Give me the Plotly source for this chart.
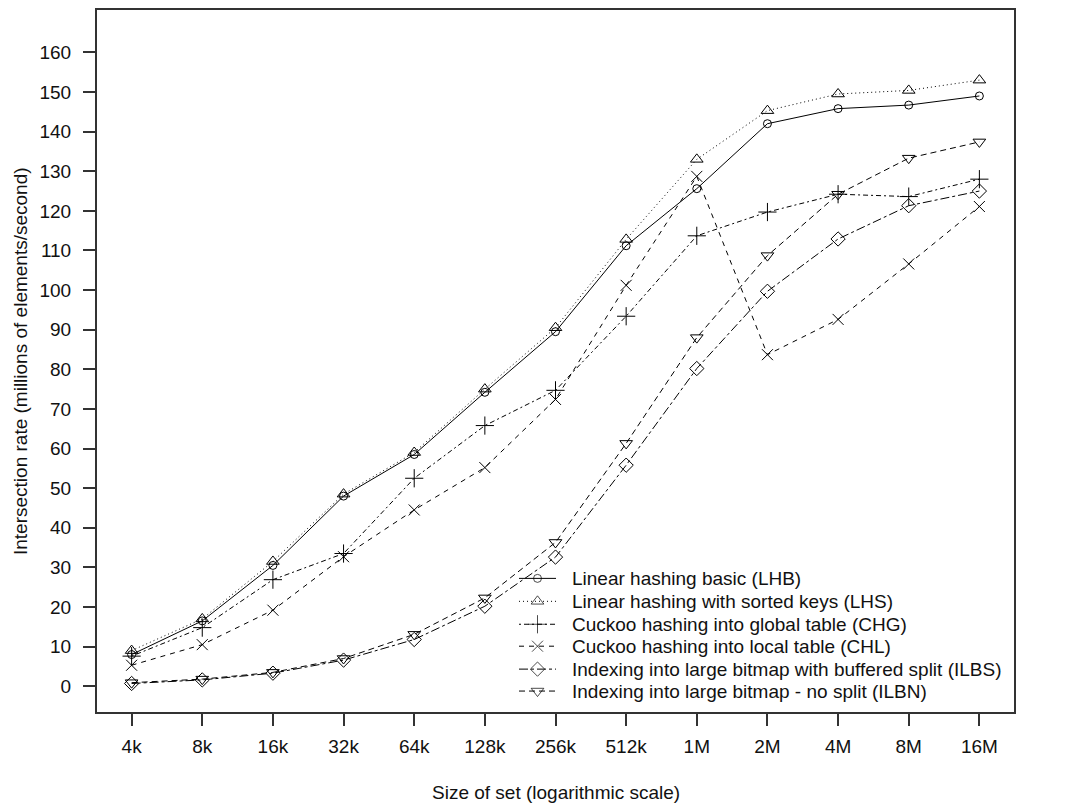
import plotly.graph_objects as go

# Set sizes (x axis categories)
sizes = ["4k", "8k", "16k", "32k", "64k", "128k", "256k", "512k", "1M", "2M", "4M", "8M", "16M"]

# Intersection rate, millions of elements per second
lhb = [8.0, 16.5, 30.5, 48.0, 58.5, 74.2, 89.5, 111.2, 125.6, 142.0, 145.8, 146.7, 149.0]
lhs = [9.0, 17.0, 31.5, 48.5, 59.0, 75.0, 90.5, 112.8, 133.0, 145.3, 149.5, 150.4, 153.0]
chg = [7.6, 14.8, 26.9, 33.5, 52.5, 65.8, 74.7, 93.4, 113.7, 119.7, 124.2, 123.6, 128.0]
chl = [5.3, 10.5, 19.2, 32.7, 44.5, 55.2, 72.4, 101.2, 128.7, 83.7, 92.6, 106.6, 121.1]
ilbs = [0.7, 1.6, 3.3, 6.6, 11.8, 20.2, 32.6, 55.8, 80.2, 99.7, 112.9, 121.3, 125.0]
ilbn = [0.9, 1.8, 3.5, 7.0, 13.1, 22.3, 36.3, 61.3, 88.0, 108.7, 124.2, 133.3, 137.4]

y_ticks = list(range(0, 161, 10))

names = [
    "Linear hashing basic (LHB)",
    "Linear hashing with sorted keys (LHS)",
    "Cuckoo hashing into global table (CHG)",
    "Cuckoo hashing into local table (CHL)",
    "Indexing into large bitmap with buffered split (ILBS)",
    "Indexing into large bitmap - no split (ILBN)",
]
series = [lhb, lhs, chg, chl, ilbs, ilbn]
symbols = ["circle-open", "triangle-up-open", "cross-thin-open", "x-thin-open",
           "diamond-open", "triangle-down-open"]
marker_sizes = [8, 11, 13, 11, 11, 11]
dashes = ["solid", "1px,3px", "2px,3px,5px,3px", "5px,5px", "9px,3px,3px,3px", "6px,4px"]

FONT = "Liberation Sans, Arial, sans-serif"
INK = "#111111"
TXT = 19

fig = go.Figure()

for name, ys, sym, ms, dash in zip(names, series, symbols, marker_sizes, dashes):
    fig.add_trace(go.Scatter(
        x=sizes, y=ys, name=name, mode="lines+markers",
        line=dict(color="black", width=1, dash=dash),
        marker=dict(symbol=sym, size=ms, color="black", line=dict(color="black", width=1)),
        showlegend=False,
    ))

# Hand-built key: short line samples on an auxiliary hidden axis plus text labels
plot_l, plot_r, plot_t, plot_b = 97, 1014, 8, 712
W, H = 1076, 804
pw, ph = plot_r - plot_l, plot_b - plot_t
key_x0 = (519 - plot_l) / pw
key_x1 = (556 - plot_l) / pw
key_text_x = (570 - plot_l) / pw
row_px = [578, 601, 624, 646, 669, 691]
row_y = [(plot_b - p) / ph for p in row_px]

for name, sym, ms, dash, ry in zip(names, symbols, marker_sizes, dashes, row_y):
    fig.add_trace(go.Scatter(
        x=[0, 0.5, 1], y=[ry, ry, ry], xaxis="x3", yaxis="y3", mode="lines+markers",
        line=dict(color="black", width=1, dash=dash),
        marker=dict(symbol=sym, size=[0, ms, 0], color="black",
                    line=dict(color="black", width=[0, 1, 0])),
        showlegend=False, hoverinfo="skip",
    ))
    fig.add_annotation(
        x=key_text_x, y=ry, xref="paper", yref="paper", text=name, showarrow=False,
        xanchor="left", yanchor="middle", font=dict(family=FONT, size=TXT, color=INK),
    )

fig.add_annotation(
    x=0.5, y=(plot_b - 793) / ph, xref="paper", yref="paper",
    text="Size of set (logarithmic scale)", showarrow=False,
    xanchor="center", yanchor="middle", font=dict(family=FONT, size=TXT, color=INK),
)
fig.add_annotation(
    x=(20 - plot_l) / pw, y=0.5, xref="paper", yref="paper",
    text="Intersection rate (millions of elements/second)", showarrow=False, textangle=-90,
    xanchor="center", yanchor="middle", font=dict(family=FONT, size=TXT, color=INK),
)

y_range = [-6.5, 170.7]
axis_common = dict(
    ticks="outside", ticklen=12, tickwidth=2, tickcolor="#333333",
    showgrid=False, zeroline=False,
    tickfont=dict(family=FONT, size=19, color=INK),
)

fig.update_layout(
    width=W, height=H,
    margin=dict(l=plot_l, r=W - plot_r, t=plot_t, b=H - plot_b),
    paper_bgcolor="white", plot_bgcolor="rgba(0,0,0,0)",
    showlegend=False,
    xaxis=dict(
        type="category", categoryorder="array", categoryarray=sizes,
        range=[-0.49, 12.49], showline=True, linecolor="#333333", linewidth=2,
        mirror=True, ticklabelstandoff=4, **axis_common,
    ),
    yaxis=dict(
        range=y_range, tickvals=y_ticks, showline=True, linecolor="#333333",
        linewidth=2, mirror=True, ticklabelstandoff=8, **axis_common,
    ),
    yaxis2=dict(
        range=y_range, tickvals=y_ticks, overlaying="y", side="right", anchor="x",
        showline=False, ticklabelstandoff=10, **axis_common,
    ),
    xaxis3=dict(domain=[key_x0, key_x1], range=[0, 1], visible=False, anchor="y3"),
    yaxis3=dict(domain=[0, 1], range=[0, 1], visible=False, anchor="x3"),
)

fig.write_html("out.html")
